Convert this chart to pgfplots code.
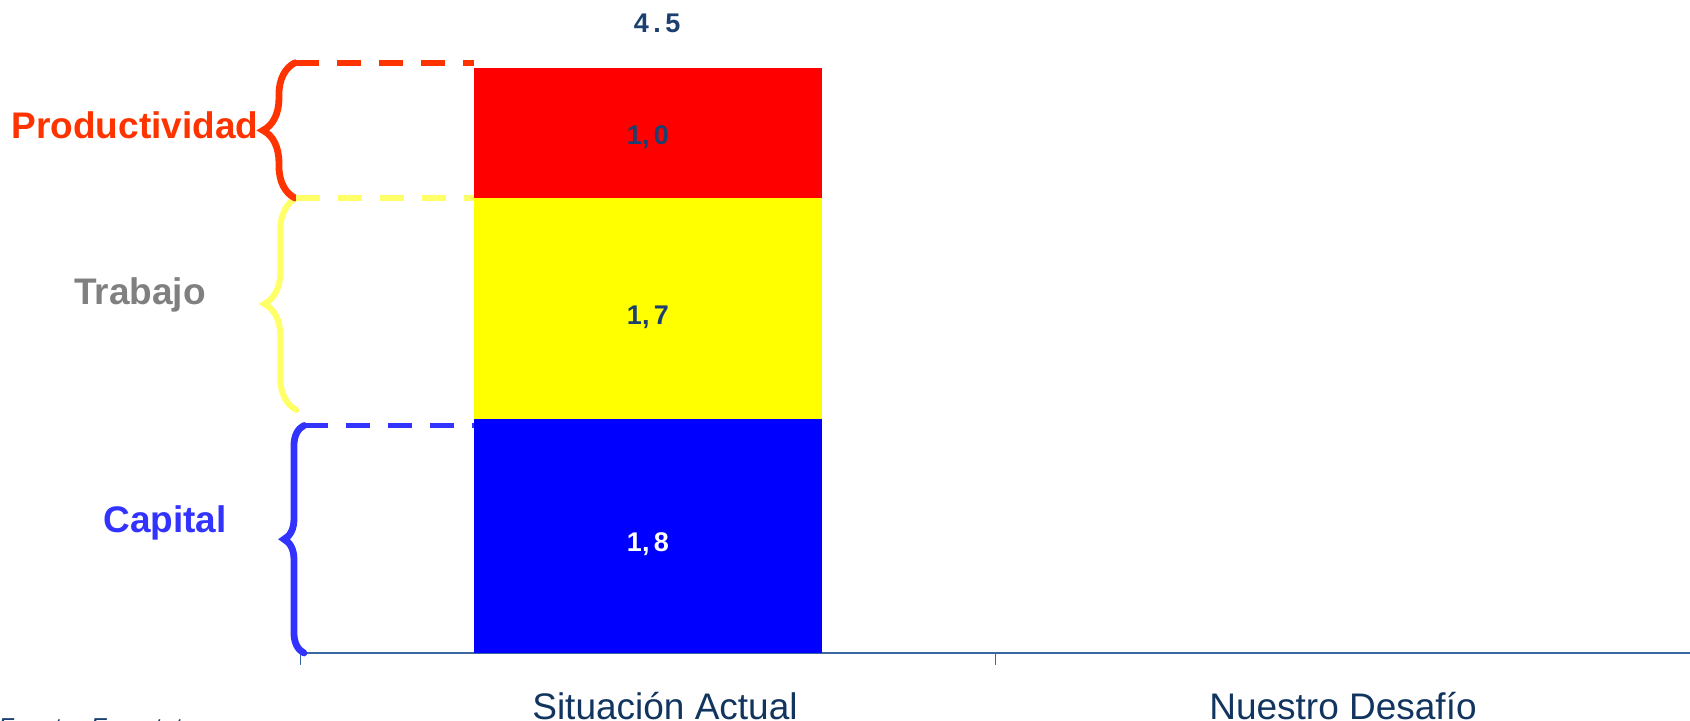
\documentclass[border=0pt]{standalone}
\usepackage{fontspec}
\setmainfont{Liberation Sans}
\usepackage{pgfplots}
\pgfplotsset{compat=1.18}
\usetikzlibrary{decorations.pathreplacing}
\definecolor{barred}{HTML}{FF0000}
\definecolor{baryellow}{HTML}{FFFF00}
\definecolor{barblue}{HTML}{0000FF}
\definecolor{prodcol}{HTML}{FF3300}
\definecolor{trabcol}{HTML}{FFFF66}
\definecolor{capcol}{HTML}{3333FF}
\definecolor{graytxt}{HTML}{808080}
\definecolor{navy}{HTML}{1B3F6F}
\definecolor{ticktxt}{HTML}{12355F}
\definecolor{axiscol}{HTML}{3A67A0}

\pgfplotstableread{
x capital trabajo productividad
0 1.8 1.7 1.0
}\datatable

\tikzset{vlab/.style={anchor=base, inner sep=0pt, font=\fontsize{13.5}{15}\selectfont\bfseries}}

\begin{document}
\begin{tikzpicture}
\useasboundingbox (0,0) rectangle (845pt,360.5pt);
\clip (0,0) rectangle (845pt,360.5pt);
\begin{axis}[
  at={(150.25pt,34pt)}, anchor=south west,
  scale only axis, width=695pt, height=325pt,
  xmin=-0.5, xmax=1.5, ymin=0, ymax=5,
  axis x line=bottom, axis y line=none,
  x axis line style={-, draw=axiscol, line width=0.6pt},
  ytick=\empty,
  ybar stacked, bar width=174pt,
  xtick={-0.5,0.5,1.5},
  xticklabels={},
  tick align=outside,
  major tick length=6pt,
  xtick style={draw=axiscol, line width=0.6pt},
  extra x ticks={0,1},
  extra x tick labels={\hspace*{17pt}Situación Actual, Nuestro Desafío},
  extra x tick style={major tick length=0pt, xtick style={draw=none}},
  xticklabel style={font=\fontsize{18.5}{20}\selectfont, text=ticktxt, anchor=base, yshift=-33.5pt, inner sep=0pt},
  clip=false,
  after end axis/.code={
    \node[vlab, text=navy] at (axis cs:0,3.915) {1,\,0};
    \node[vlab, text=navy] at (axis cs:0,2.53) {1,\,7};
    \node[vlab, text=white] at (axis cs:0,0.78) {1,\,8};
    \node[vlab, text=navy] at (axis cs:0.013,4.77) {4\,.\,5};
  },
]
\addplot[fill=barblue, draw=none] table[x=x, y=capital] {\datatable};
\addplot[fill=baryellow, draw=none] table[x=x, y=trabajo] {\datatable};
\addplot[fill=barred, draw=none] table[x=x, y=productividad] {\datatable};

% dashed guide lines
\draw[prodcol, line width=2.8pt, dash pattern=on 12pt off 9pt] (axis cs:-0.508,4.54) -- (axis cs:-0.25,4.54);
\draw[trabcol, line width=2.8pt, dash pattern=on 12pt off 9pt] (axis cs:-0.506,3.5) -- (axis cs:-0.25,3.5);
\draw[capcol, line width=2.8pt, dash pattern=on 12pt off 9pt] (axis cs:-0.495,1.75) -- (axis cs:-0.25,1.75);

% braces
\draw[prodcol, line width=3.4pt, line cap=round, decorate, decoration={brace, amplitude=16pt}] (axis cs:-0.508,3.5) -- (axis cs:-0.508,4.54);
\draw[trabcol, line width=3pt, line cap=round, decorate, decoration={brace, amplitude=16pt}] (axis cs:-0.506,1.87) -- (axis cs:-0.506,3.5);
\draw[capcol, line width=3.4pt, line cap=round, decorate, decoration={brace, amplitude=10pt}] (axis cs:-0.495,0) -- (axis cs:-0.495,1.75);

% group labels
\node[anchor=base east, inner sep=0pt, font=\fontsize{18.5}{20}\selectfont\bfseries, text=prodcol] at (axis cs:-0.560,3.96) {Productividad};
\node[anchor=base, inner sep=0pt, font=\fontsize{18.5}{20}\selectfont\bfseries, text=graytxt] at (axis cs:-0.731,2.68) {Trabajo};
\node[anchor=base, inner sep=0pt, font=\fontsize{18.5}{20}\selectfont\bfseries, text=capcol] at (axis cs:-0.695,0.93) {Capital};
\end{axis}
\node[anchor=base west, inner sep=0pt, font=\fontsize{12.25}{14}\selectfont\itshape, text=navy] at (-1pt,-7.5pt) {Fuente: Eurostat};
\end{tikzpicture}
\end{document}
